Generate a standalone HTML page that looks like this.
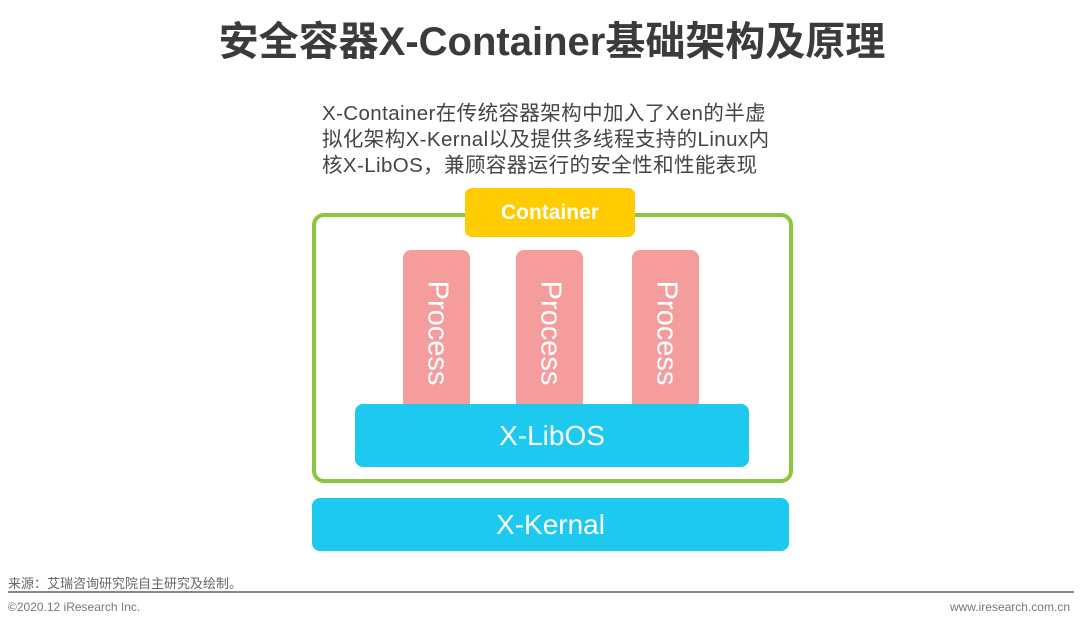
<!DOCTYPE html>
<html><head><meta charset="utf-8"><style>
body{margin:0;width:1080px;height:627px;background:#fff;position:relative;overflow:hidden;font-family:"Liberation Sans","Noto Sans CJK SC",sans-serif}
.a{position:absolute}
.title{left:12px;width:1080px;top:16px;text-align:center;font-size:40px;font-weight:bold;color:#3b3b3b;line-height:52px}
.desc{left:322px;top:101px;font-size:20.5px;letter-spacing:0.4px;line-height:26px;color:#444;white-space:nowrap}
.green{left:312px;top:213px;width:473px;height:262px;border:4px solid #8cc63f;border-radius:12px}
.cont{left:465px;top:188px;width:170px;height:49px;background:#fecc00;border-radius:7px;color:#fff;font-weight:bold;font-size:21px;text-align:center;line-height:49px}
.proc{top:250px;width:67px;height:160px;background:#f59d9d;border-radius:8px;color:#fff;font-size:29px}
.proc span{position:absolute;left:50%;top:52%;transform:translate(-50%,-50%) rotate(90deg);white-space:nowrap}
.blue{background:#1ec9f0;border-radius:8px;color:#fff;text-align:center;font-size:28px}
</style></head><body>
<div class="a title">安全容器X-Container基础架构及原理</div>
<div class="a desc">X-Container在传统容器架构中加入了Xen的半虚<br>拟化架构X-Kernal以及提供多线程支持的Linux内<br>核X-LibOS，兼顾容器运行的安全性和性能表现</div>
<div class="a green"></div>
<div class="a cont">Container</div>
<div class="a proc" style="left:403px"><span>Process</span></div>
<div class="a proc" style="left:516px"><span>Process</span></div>
<div class="a proc" style="left:632px"><span>Process</span></div>
<div class="a blue" style="left:355px;top:404px;width:394px;height:63px;line-height:63px">X-LibOS</div>
<div class="a blue" style="left:312px;top:498px;width:477px;height:53px;line-height:53px">X-Kernal</div>
<div class="a" style="left:8px;top:573px;font-size:13px;color:#666">来源：艾瑞咨询研究院自主研究及绘制。</div>
<div class="a" style="left:8px;top:591px;width:1066px;height:2px;background:#888"></div>
<div class="a" style="left:8px;top:600px;font-size:12px;color:#777">©2020.12 iResearch Inc.</div>
<div class="a" style="right:10px;top:600px;font-size:12px;color:#777">www.iresearch.com.cn</div>
</body></html>
